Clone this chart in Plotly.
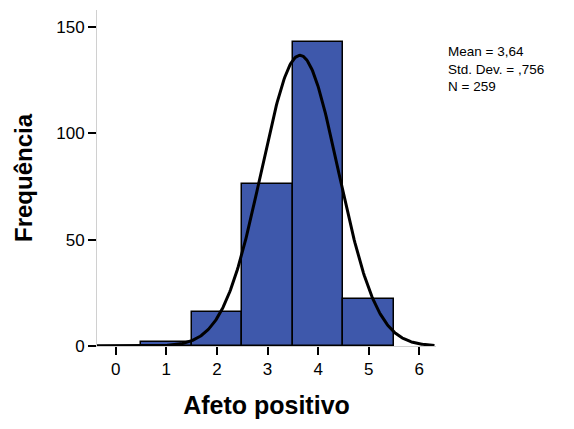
import numpy as np
import plotly.graph_objects as go

bins = [0, 1, 2, 3, 4, 5]
counts = [0, 2, 16, 76, 143, 22]
mean_val = 3.64
std_val = 0.756
n_val = 259
stats_lines = ["Mean = 3,64", "Std. Dev. = ,756", "N = 259"]

fig = go.Figure()
fig.add_trace(go.Bar(
    x=bins, y=counts, width=1.0,
    marker=dict(color="rgb(62,88,171)", line=dict(color="black", width=1.5)),
    showlegend=False, hoverinfo="x+y"
))

xs = np.linspace(-0.37, 6.3, 400)
ys = n_val * 1.0 / (std_val * np.sqrt(2 * np.pi)) * np.exp(-0.5 * ((xs - mean_val) / std_val) ** 2)
fig.add_trace(go.Scatter(x=xs, y=ys, mode="lines",
                         line=dict(color="black", width=3), showlegend=False))

font_family = "Liberation Sans, Arial, sans-serif"
fig.update_layout(
    width=566, height=421,
    margin=dict(l=89, r=138, t=2, b=83, autoexpand=False),
    paper_bgcolor="white", plot_bgcolor="white",
    bargap=0,
    font=dict(family=font_family, color="black"),
    xaxis=dict(range=[-0.37, 6.33], tickvals=[0, 1, 2, 3, 4, 5, 6],
               ticks="outside", ticklen=8, tickwidth=2, tickcolor="black",
               showline=True, linecolor="#d0d0d0", linewidth=1,
               showgrid=False, zeroline=False, automargin=False,
               tickfont=dict(size=17),
               title=dict(text="<b>Afeto positivo</b>", font=dict(size=25), standoff=18)),
    yaxis=dict(range=[0, 158], tickvals=[0, 50, 100, 150],
               ticks="outside", ticklen=8, tickwidth=2, tickcolor="black",
               showline=True, linecolor="#d0d0d0", linewidth=1,
               showgrid=False, zeroline=False, automargin=False,
               tickfont=dict(size=17),
               title=dict(text="<b>Frequência</b>", font=dict(size=24), standoff=16)),
    annotations=[dict(
        x=1.03, y=0.905, xref="paper", yref="paper",
        xanchor="left", yanchor="top", align="left", showarrow=False,
        text="<br>".join(stats_lines), font=dict(size=13.5, family=font_family))]
)

fig.write_html("out.html")
